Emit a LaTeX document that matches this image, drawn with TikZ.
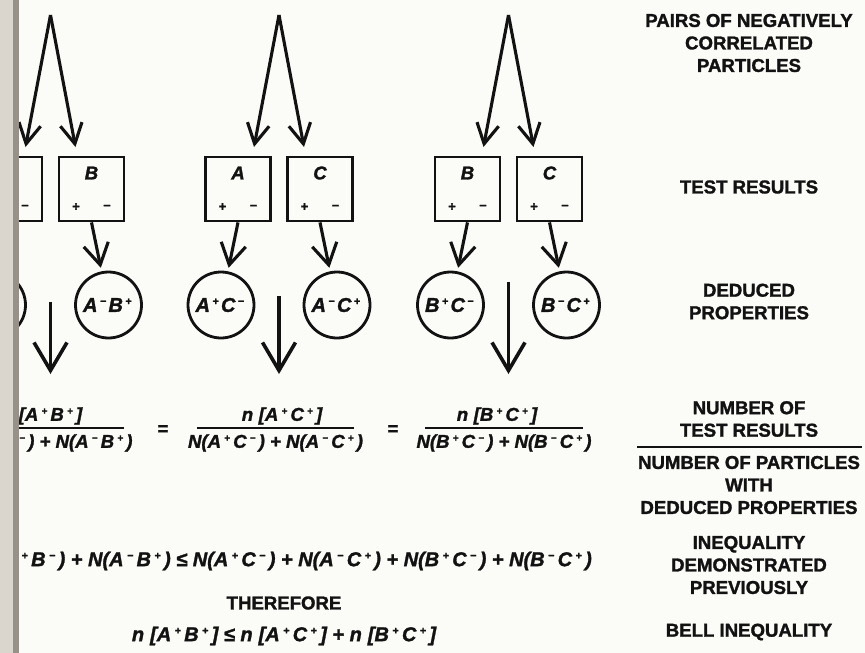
\documentclass[tikz,border=0pt]{standalone}
\usepackage{fontspec}
\setmainfont{Liberation Sans}[BoldFeatures={FakeBold=1.5}, BoldItalicFeatures={FakeBold=1.5}]
\usetikzlibrary{arrows.meta,calc}
\definecolor{ink}{RGB}{18,18,18}
\definecolor{paper}{RGB}{251,251,247}
\definecolor{edgeA}{RGB}{218,214,206}
\definecolor{edgeB}{RGB}{150,146,138}
\makeatletter
\newcommand\Sup[1]{\makebox[0.65em]{\raisebox{0.35em}{\fontsize{\strip@pt\dimexpr0.54\dimexpr\f@size pt\relax\relax}{1}\selectfont #1}}}
\newcommand\SupS[1]{\makebox[0.55em]{\raisebox{0.35em}{\fontsize{\strip@pt\dimexpr0.54\dimexpr\f@size pt\relax\relax}{1}\selectfont #1}}}
\makeatother
\newcommand\NT[4]{N(#1\Sup{#2}#3\Sup{#4})}
\newcommand\nT[2]{n\hspace{0.3em}[#1\Sup{+}#2\Sup{+}]}
\newcommand\CT[4]{#1\SupS{#2}#3\SupS{#4}}
\begin{document}
\begin{tikzpicture}[x=1pt,y=-1pt,
  lab/.style={font=\fontsize{18.6}{22.5}\selectfont\bfseries, align=center, text=ink, inner sep=0},
  eq/.style={font=\fontsize{18.6}{22}\selectfont\bfseries\itshape, text=ink, inner sep=0},
  eqbig/.style={font=\fontsize{20}{22}\selectfont\bfseries\itshape, text=ink, inner sep=0},
  eqop/.style={font=\fontsize{18.6}{22}\selectfont\bfseries, text=ink, inner sep=0},
  tbox/.style={draw=ink, line width=2.8pt, minimum width=65pt, minimum height=64pt, inner sep=0},
  prop/.style={circle, draw=ink, line width=2.8pt, minimum size=66pt, inner sep=0,
    font=\fontsize{20}{20}\selectfont\bfseries\itshape, text=ink},
  letter/.style={font=\fontsize{18.6}{20}\selectfont\bfseries\itshape, text=ink, inner sep=0},
  sgn/.style={font=\fontsize{13}{13}\selectfont\bfseries, text=ink, inner sep=0},
  topar/.style={draw=ink, line width=3.1pt, line join=miter, -{Straight Barb[length=20pt,width=22pt]}},
  smallar/.style={draw=ink, line width=3.1pt, -{Straight Barb[length=21pt,width=25pt]}},
  bigar/.style={draw=ink, line width=3.6pt, -{Straight Barb[length=28pt,width=33pt]}},
  bar/.style={draw=ink, line width=2.6pt}]
\useasboundingbox (0,0) rectangle (865,653);
\fill[paper] (0,0) rectangle (865,653);
\fill[edgeA] (0,0) rectangle (13,653);
\fill[edgeB] (13,0) rectangle (19,653);
\begin{scope}
\clip (19,0) rectangle (865,653);
\foreach \g/\gx/\L/\R/\bs in {1/50.5/A/B/302, 2/279/A/C/296, 3/508.5/B/C/282} {
  \coordinate (p\g) at (\gx,15);
  \coordinate (ta\g) at (\gx-25,147);
  \coordinate (tb\g) at (\gx+25,147);
  \draw[topar] (p\g) -- (ta\g);
  \draw[topar] (p\g) -- (tb\g);
  \node[tbox] (bl\g) at (\gx-41,189) {};
  \node[tbox] (br\g) at (\gx+41,189) {};
  \node[letter] (bll\g) at ($(bl\g.center)+(0,-16)$) {\L};
  \node[letter] (brl\g) at ($(br\g.center)+(0,-16)$) {\R};
  \node[sgn] (blp\g) at ($(bl\g.center)+(-15.5,18)$) {+};
  \node[sgn] (blm\g) at ($(bl\g.center)+(15.5,18)$) {–};
  \node[sgn] (brp\g) at ($(br\g.center)+(-15.5,18)$) {+};
  \node[sgn] (brm\g) at ($(br\g.center)+(15.5,18)$) {–};
  \node[prop] (cl\g) at (\gx-58,305) {\CT{\L}{+}{\R}{−}};
  \node[prop] (cr\g) at (\gx+58,305) {\CT{\L}{−}{\R}{+}};
  \draw[smallar] (bl\g.south) -- ($(bl\g.south)!0.55!(cl\g.center)$);
  \draw[smallar] (br\g.south) -- ($(br\g.south)!0.55!(cr\g.center)$);
  \coordinate (bs\g) at (\gx,\bs);
  \coordinate (be\g) at (\gx,374);
  \draw[bigar] (bs\g) -- (be\g);
}
% fractions
\coordinate (barY) at (0,428);
\node[eq] (den1) at (45,443) {\NT{A}{+}{B}{−} + \NT{A}{−}{B}{+}};
\node[eq] (den2) at (275.5,443) {\NT{A}{+}{C}{−} + \NT{A}{−}{C}{+}};
\node[eq] (den3) at (504,443) {\NT{B}{+}{C}{−} + \NT{B}{−}{C}{+}};
\node[eq] (num1) at (42,416) {\nT{A}{B}};
\node[eq] (num2) at (282,416) {\nT{A}{C}};
\node[eq] (num3) at (497,416) {\nT{B}{C}};
\foreach \i in {1,2,3} {
  \draw[bar] ($(den\i.west |- barY)+(9,0)$) -- ($(den\i.east |- barY)+(-9,0)$);
}
\node[eqop] (eqa) at (163,430) {=};
\node[eqop] (eqb) at (393,430) {=};
% inequality
\node[eqbig, anchor=east] (ineq) at (592,561) {\NT{A}{+}{B}{−} + \NT{A}{−}{B}{+} ≤ \NT{A}{+}{C}{−} + \NT{A}{−}{C}{+} + \NT{B}{+}{C}{−} + \NT{B}{−}{C}{+}};
\node[lab] (ther) at (284,603) {THEREFORE};
\node[eqbig] (bell) at (284,636) {\nT{A}{B} ≤ \nT{A}{C} + \nT{B}{C}};
% right labels
\node[lab] (lp) at (749,43) {PAIRS OF NEGATIVELY\\CORRELATED\\PARTICLES};
\node[lab] (lt) at (749,187) {TEST RESULTS};
\node[lab] (ld) at (749,301.5) {DEDUCED\\PROPERTIES};
\node[lab] (ln) at (749,419) {NUMBER OF\\TEST RESULTS};
\coordinate (rl) at (637,447);
\coordinate (rr) at (862,447);
\draw[bar] (rl) -- (rr);
\node[lab] (lw) at (749,485) {NUMBER OF PARTICLES\\WITH\\DEDUCED PROPERTIES};
\node[lab] (li) at (749,565) {INEQUALITY\\DEMONSTRATED\\PREVIOUSLY};
\node[lab] (lb) at (749,632) {BELL INEQUALITY};
\end{scope}
\end{tikzpicture}
\end{document}
